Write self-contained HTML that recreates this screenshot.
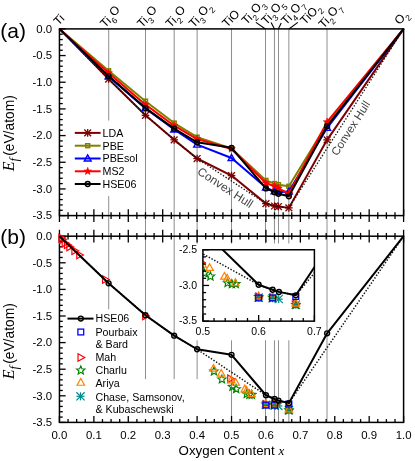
<!DOCTYPE html>
<html><head><meta charset="utf-8"><style>html,body{margin:0;padding:0;background:#fff}</style></head><body><svg width="415" height="461" viewBox="0 0 415 461" style="display:block;will-change:transform">
<rect width="415" height="461" fill="#fff"/>
<line x1="108.71" y1="28.9" x2="108.71" y2="120.6" stroke="#8e8e8e" stroke-width="1.0"/>
<line x1="108.71" y1="196.1" x2="108.71" y2="309.3" stroke="#8e8e8e" stroke-width="1.0"/>
<line x1="145.49" y1="28.9" x2="145.49" y2="379.1" stroke="#8e8e8e" stroke-width="1.0"/>
<line x1="174.17" y1="28.9" x2="174.17" y2="379.1" stroke="#8e8e8e" stroke-width="1.0"/>
<line x1="197.11" y1="28.9" x2="197.11" y2="379.1" stroke="#8e8e8e" stroke-width="1.0"/>
<line x1="231.53" y1="28.9" x2="231.53" y2="422.4" stroke="#8e8e8e" stroke-width="1.0"/>
<line x1="265.5" y1="28.9" x2="265.5" y2="422.4" stroke="#8e8e8e" stroke-width="1.0"/>
<line x1="274.45" y1="28.9" x2="274.45" y2="422.4" stroke="#8e8e8e" stroke-width="1.0"/>
<line x1="278.5" y1="28.9" x2="278.5" y2="422.4" stroke="#8e8e8e" stroke-width="1.0"/>
<line x1="288.85" y1="28.9" x2="288.85" y2="422.4" stroke="#8e8e8e" stroke-width="1.0"/>
<line x1="327" y1="28.9" x2="327" y2="422.4" stroke="#8e8e8e" stroke-width="1.0"/>
<rect x="179" y="243.5" width="143" height="96.8" fill="#fff"/>
<clipPath id="ca"><rect x="56.45" y="25.9" width="350.15000000000003" height="192.7"/></clipPath>
<polyline points="59.45,28.9 108.61,79.04 145.49,115.32 174.17,139.85 197.11,158.52 231.53,175.59 265.94,203.6 274.54,206 278.45,206.53 288.88,207.87 327.12,139.85 403.6,28.9" fill="none" stroke="#800000" stroke-width="2" stroke-linejoin="round"/>
<line x1="108.61" y1="75.24" x2="108.61" y2="82.84" stroke="#800000" stroke-width="1.3"/><line x1="104.81" y1="79.04" x2="112.41" y2="79.04" stroke="#800000" stroke-width="1.3"/><line x1="105.21" y1="75.64" x2="112.01" y2="82.44" stroke="#800000" stroke-width="1.3"/><line x1="105.21" y1="82.44" x2="112.01" y2="75.64" stroke="#800000" stroke-width="1.3"/>
<line x1="145.49" y1="111.52" x2="145.49" y2="119.12" stroke="#800000" stroke-width="1.3"/><line x1="141.69" y1="115.32" x2="149.29" y2="115.32" stroke="#800000" stroke-width="1.3"/><line x1="142.09" y1="111.92" x2="148.89" y2="118.72" stroke="#800000" stroke-width="1.3"/><line x1="142.09" y1="118.72" x2="148.89" y2="111.92" stroke="#800000" stroke-width="1.3"/>
<line x1="174.17" y1="136.05" x2="174.17" y2="143.65" stroke="#800000" stroke-width="1.3"/><line x1="170.37" y1="139.85" x2="177.97" y2="139.85" stroke="#800000" stroke-width="1.3"/><line x1="170.77" y1="136.45" x2="177.57" y2="143.25" stroke="#800000" stroke-width="1.3"/><line x1="170.77" y1="143.25" x2="177.57" y2="136.45" stroke="#800000" stroke-width="1.3"/>
<line x1="197.11" y1="154.72" x2="197.11" y2="162.32" stroke="#800000" stroke-width="1.3"/><line x1="193.31" y1="158.52" x2="200.91" y2="158.52" stroke="#800000" stroke-width="1.3"/><line x1="193.71" y1="155.12" x2="200.51" y2="161.92" stroke="#800000" stroke-width="1.3"/><line x1="193.71" y1="161.92" x2="200.51" y2="155.12" stroke="#800000" stroke-width="1.3"/>
<line x1="231.53" y1="171.79" x2="231.53" y2="179.39" stroke="#800000" stroke-width="1.3"/><line x1="227.73" y1="175.59" x2="235.33" y2="175.59" stroke="#800000" stroke-width="1.3"/><line x1="228.13" y1="172.19" x2="234.93" y2="178.99" stroke="#800000" stroke-width="1.3"/><line x1="228.13" y1="178.99" x2="234.93" y2="172.19" stroke="#800000" stroke-width="1.3"/>
<line x1="265.94" y1="199.8" x2="265.94" y2="207.4" stroke="#800000" stroke-width="1.3"/><line x1="262.14" y1="203.6" x2="269.74" y2="203.6" stroke="#800000" stroke-width="1.3"/><line x1="262.54" y1="200.2" x2="269.34" y2="207" stroke="#800000" stroke-width="1.3"/><line x1="262.54" y1="207" x2="269.34" y2="200.2" stroke="#800000" stroke-width="1.3"/>
<line x1="274.54" y1="202.2" x2="274.54" y2="209.8" stroke="#800000" stroke-width="1.3"/><line x1="270.74" y1="206" x2="278.34" y2="206" stroke="#800000" stroke-width="1.3"/><line x1="271.14" y1="202.6" x2="277.94" y2="209.4" stroke="#800000" stroke-width="1.3"/><line x1="271.14" y1="209.4" x2="277.94" y2="202.6" stroke="#800000" stroke-width="1.3"/>
<line x1="278.45" y1="202.73" x2="278.45" y2="210.33" stroke="#800000" stroke-width="1.3"/><line x1="274.65" y1="206.53" x2="282.25" y2="206.53" stroke="#800000" stroke-width="1.3"/><line x1="275.05" y1="203.13" x2="281.85" y2="209.93" stroke="#800000" stroke-width="1.3"/><line x1="275.05" y1="209.93" x2="281.85" y2="203.13" stroke="#800000" stroke-width="1.3"/>
<line x1="288.88" y1="204.07" x2="288.88" y2="211.67" stroke="#800000" stroke-width="1.3"/><line x1="285.08" y1="207.87" x2="292.68" y2="207.87" stroke="#800000" stroke-width="1.3"/><line x1="285.48" y1="204.47" x2="292.28" y2="211.27" stroke="#800000" stroke-width="1.3"/><line x1="285.48" y1="211.27" x2="292.28" y2="204.47" stroke="#800000" stroke-width="1.3"/>
<line x1="327.12" y1="136.05" x2="327.12" y2="143.65" stroke="#800000" stroke-width="1.3"/><line x1="323.32" y1="139.85" x2="330.92" y2="139.85" stroke="#800000" stroke-width="1.3"/><line x1="323.72" y1="136.45" x2="330.52" y2="143.25" stroke="#800000" stroke-width="1.3"/><line x1="323.72" y1="143.25" x2="330.52" y2="136.45" stroke="#800000" stroke-width="1.3"/>
<polyline points="59.45,28.9 108.61,79.04 145.49,115.32 174.17,139.85 197.11,158.52 265.94,203.6 274.54,206 278.45,206.53 288.88,207.87 403.6,28.9" fill="none" stroke="#111" stroke-width="1.3" stroke-dasharray="1.4,1.7"/>
<polyline points="59.45,28.9 108.61,70.77 145.49,101.18 174.17,123.05 197.11,137.19 231.53,148.39 265.94,180.39 274.54,183.59 278.45,184.66 288.88,186.26 327.12,123.85 403.6,28.9" fill="none" stroke="#808000" stroke-width="2" stroke-linejoin="round"/>
<rect x="106.66" y="68.82" width="3.9" height="3.9" fill="none" stroke="#808000" stroke-width="1.5"/>
<rect x="143.54" y="99.23" width="3.9" height="3.9" fill="none" stroke="#808000" stroke-width="1.5"/>
<rect x="172.22" y="121.1" width="3.9" height="3.9" fill="none" stroke="#808000" stroke-width="1.5"/>
<rect x="195.16" y="135.24" width="3.9" height="3.9" fill="none" stroke="#808000" stroke-width="1.5"/>
<rect x="229.58" y="146.44" width="3.9" height="3.9" fill="none" stroke="#808000" stroke-width="1.5"/>
<rect x="263.99" y="178.44" width="3.9" height="3.9" fill="none" stroke="#808000" stroke-width="1.5"/>
<rect x="272.59" y="181.64" width="3.9" height="3.9" fill="none" stroke="#808000" stroke-width="1.5"/>
<rect x="276.5" y="182.71" width="3.9" height="3.9" fill="none" stroke="#808000" stroke-width="1.5"/>
<rect x="286.93" y="184.31" width="3.9" height="3.9" fill="none" stroke="#808000" stroke-width="1.5"/>
<rect x="325.17" y="121.9" width="3.9" height="3.9" fill="none" stroke="#808000" stroke-width="1.5"/>
<polyline points="59.45,28.9 108.61,76.38 145.49,108.38 174.17,129.45 197.11,144.65 231.53,157.99 265.94,187.59 274.54,191.33 278.45,192.13 288.88,191.6 327.12,127.85 403.6,28.9" fill="none" stroke="#0000ff" stroke-width="2" stroke-linejoin="round"/>
<polygon points="108.61,72.78 105.19,78.9 112.03,78.9" fill="none" stroke="#0000ff" stroke-width="1.4"/>
<polygon points="145.49,104.78 142.07,110.9 148.91,110.9" fill="none" stroke="#0000ff" stroke-width="1.4"/>
<polygon points="174.17,125.85 170.75,131.97 177.59,131.97" fill="none" stroke="#0000ff" stroke-width="1.4"/>
<polygon points="197.11,141.05 193.69,147.17 200.53,147.17" fill="none" stroke="#0000ff" stroke-width="1.4"/>
<polygon points="231.53,154.39 228.11,160.51 234.95,160.51" fill="none" stroke="#0000ff" stroke-width="1.4"/>
<polygon points="265.94,184 262.52,190.12 269.36,190.12" fill="none" stroke="#0000ff" stroke-width="1.4"/>
<polygon points="274.54,187.73 271.12,193.85 277.96,193.85" fill="none" stroke="#0000ff" stroke-width="1.4"/>
<polygon points="278.45,188.53 275.03,194.65 281.87,194.65" fill="none" stroke="#0000ff" stroke-width="1.4"/>
<polygon points="288.88,188 285.46,194.12 292.3,194.12" fill="none" stroke="#0000ff" stroke-width="1.4"/>
<polygon points="327.12,124.25 323.7,130.37 330.54,130.37" fill="none" stroke="#0000ff" stroke-width="1.4"/>
<polyline points="59.45,28.9 108.61,73.07 145.49,104.65 174.17,125.72 197.11,139.05 231.53,148.92 265.94,183.06 274.54,186.26 278.45,188.4 288.88,193.73 327.12,121.98 403.6,28.9" fill="none" stroke="#ff0000" stroke-width="2" stroke-linejoin="round"/>
<polygon points="108.61,69.07 109.55,71.77 112.42,71.83 110.14,73.56 110.97,76.3 108.61,74.67 106.26,76.3 107.09,73.56 104.81,71.83 107.67,71.77" fill="#ff0000" stroke="#ff0000" stroke-width="0.6"/>
<polygon points="145.49,100.65 146.43,103.35 149.29,103.41 147.01,105.14 147.84,107.88 145.49,106.25 143.14,107.88 143.97,105.14 141.68,103.41 144.55,103.35" fill="#ff0000" stroke="#ff0000" stroke-width="0.6"/>
<polygon points="174.17,121.72 175.11,124.42 177.97,124.48 175.69,126.21 176.52,128.95 174.17,127.32 171.82,128.95 172.64,126.21 170.36,124.48 173.23,124.42" fill="#ff0000" stroke="#ff0000" stroke-width="0.6"/>
<polygon points="197.11,135.05 198.05,137.76 200.91,137.82 198.63,139.55 199.46,142.29 197.11,140.65 194.76,142.29 195.59,139.55 193.31,137.82 196.17,137.76" fill="#ff0000" stroke="#ff0000" stroke-width="0.6"/>
<polygon points="231.53,144.92 232.47,147.63 235.33,147.69 233.05,149.42 233.88,152.16 231.53,150.52 229.17,152.16 230,149.42 227.72,147.69 230.58,147.63" fill="#ff0000" stroke="#ff0000" stroke-width="0.6"/>
<polygon points="265.94,179.06 266.88,181.77 269.74,181.82 267.46,183.56 268.29,186.3 265.94,184.66 263.59,186.3 264.42,183.56 262.14,181.82 265,181.77" fill="#ff0000" stroke="#ff0000" stroke-width="0.6"/>
<polygon points="274.54,182.26 275.48,184.97 278.35,185.03 276.07,186.76 276.89,189.5 274.54,187.86 272.19,189.5 273.02,186.76 270.74,185.03 273.6,184.97" fill="#ff0000" stroke="#ff0000" stroke-width="0.6"/>
<polygon points="278.45,184.4 279.4,187.1 282.26,187.16 279.98,188.89 280.81,191.63 278.45,190 276.1,191.63 276.93,188.89 274.65,187.16 277.51,187.1" fill="#ff0000" stroke="#ff0000" stroke-width="0.6"/>
<polygon points="288.88,189.73 289.82,192.44 292.69,192.49 290.41,194.22 291.23,196.97 288.88,195.33 286.53,196.97 287.36,194.22 285.08,192.49 287.94,192.44" fill="#ff0000" stroke="#ff0000" stroke-width="0.6"/>
<polygon points="327.12,117.98 328.06,120.69 330.93,120.75 328.64,122.48 329.47,125.22 327.12,123.58 324.77,125.22 325.6,122.48 323.32,120.75 326.18,120.69" fill="#ff0000" stroke="#ff0000" stroke-width="0.6"/>
<polyline points="59.45,28.9 108.61,76.11 145.49,108.11 174.17,128.65 197.11,142.25 231.53,147.85 265.94,188.4 274.54,192.13 278.45,193.73 288.88,196.29 327.12,126.25 403.6,28.9" fill="none" stroke="#000000" stroke-width="2" stroke-linejoin="round"/>
<circle cx="108.61" cy="76.11" r="2.45" fill="none" stroke="#000000" stroke-width="1.4"/>
<circle cx="145.49" cy="108.11" r="2.45" fill="none" stroke="#000000" stroke-width="1.4"/>
<circle cx="174.17" cy="128.65" r="2.45" fill="none" stroke="#000000" stroke-width="1.4"/>
<circle cx="197.11" cy="142.25" r="2.45" fill="none" stroke="#000000" stroke-width="1.4"/>
<circle cx="231.53" cy="147.85" r="2.45" fill="none" stroke="#000000" stroke-width="1.4"/>
<circle cx="265.94" cy="188.4" r="2.45" fill="none" stroke="#000000" stroke-width="1.4"/>
<circle cx="274.54" cy="192.13" r="2.45" fill="none" stroke="#000000" stroke-width="1.4"/>
<circle cx="278.45" cy="193.73" r="2.45" fill="none" stroke="#000000" stroke-width="1.4"/>
<circle cx="288.88" cy="196.29" r="2.45" fill="none" stroke="#000000" stroke-width="1.4"/>
<circle cx="327.12" cy="126.25" r="2.45" fill="none" stroke="#000000" stroke-width="1.4"/>
<text transform="translate(196.6,173.6) rotate(33.2)" font-family="Liberation Sans, sans-serif" font-size="11.8" fill="#444">Convex Hull</text>
<text transform="translate(337.3,156.5) rotate(-57.5)" font-family="Liberation Sans, sans-serif" font-size="11.5" fill="#444">Convex Hull</text>
<line x1="74.8" y1="132.9" x2="100.6" y2="132.9" stroke="#800000" stroke-width="2"/>
<line x1="87.7" y1="129.1" x2="87.7" y2="136.7" stroke="#800000" stroke-width="1.3"/><line x1="83.9" y1="132.9" x2="91.5" y2="132.9" stroke="#800000" stroke-width="1.3"/><line x1="84.3" y1="129.5" x2="91.1" y2="136.3" stroke="#800000" stroke-width="1.3"/><line x1="84.3" y1="136.3" x2="91.1" y2="129.5" stroke="#800000" stroke-width="1.3"/>
<text x="102.5" y="136.75" font-family="Liberation Sans, sans-serif" font-size="10.7" fill="#000">LDA</text>
<line x1="74.8" y1="145.7" x2="100.6" y2="145.7" stroke="#808000" stroke-width="2"/>
<rect x="85.75" y="143.75" width="3.9" height="3.9" fill="none" stroke="#808000" stroke-width="1.5"/>
<text x="102.5" y="149.54999999999998" font-family="Liberation Sans, sans-serif" font-size="10.7" fill="#000">PBE</text>
<line x1="74.8" y1="158.5" x2="100.6" y2="158.5" stroke="#0000ff" stroke-width="2"/>
<polygon points="87.7,154.9 84.28,161.02 91.12,161.02" fill="none" stroke="#0000ff" stroke-width="1.4"/>
<text x="102.5" y="162.35" font-family="Liberation Sans, sans-serif" font-size="10.7" fill="#000">PBEsol</text>
<line x1="74.8" y1="171.3" x2="100.6" y2="171.3" stroke="#ff0000" stroke-width="2"/>
<polygon points="87.7,167.3 88.64,170.01 91.5,170.06 89.22,171.79 90.05,174.54 87.7,172.9 85.35,174.54 86.18,171.79 83.9,170.06 86.76,170.01" fill="#ff0000" stroke="#ff0000" stroke-width="0.6"/>
<text x="102.5" y="175.15" font-family="Liberation Sans, sans-serif" font-size="10.7" fill="#000">MS2</text>
<line x1="74.8" y1="184.0" x2="100.6" y2="184.0" stroke="#000000" stroke-width="2"/>
<circle cx="87.7" cy="184" r="2.45" fill="none" stroke="#000000" stroke-width="1.4"/>
<text x="102.5" y="187.85" font-family="Liberation Sans, sans-serif" font-size="10.7" fill="#000">HSE06</text>
<rect x="59.45" y="28.9" width="344.15000000000003" height="186.7" fill="none" stroke="#000" stroke-width="1.5"/>
<line x1="59.45" y1="28.9" x2="65.65" y2="28.9" stroke="#000" stroke-width="1.3"/>
<text x="52.2" y="32.63" font-family="Liberation Sans, sans-serif" font-size="11.4" text-anchor="end">0.0</text>
<line x1="59.45" y1="34.23" x2="62.75" y2="34.23" stroke="#000" stroke-width="1.3"/>
<line x1="59.45" y1="39.57" x2="62.75" y2="39.57" stroke="#000" stroke-width="1.3"/>
<line x1="59.45" y1="44.9" x2="62.75" y2="44.9" stroke="#000" stroke-width="1.3"/>
<line x1="59.45" y1="50.24" x2="62.75" y2="50.24" stroke="#000" stroke-width="1.3"/>
<line x1="59.45" y1="55.57" x2="65.65" y2="55.57" stroke="#000" stroke-width="1.3"/>
<text x="52.2" y="59.3" font-family="Liberation Sans, sans-serif" font-size="11.4" text-anchor="end">-0.5</text>
<line x1="59.45" y1="60.91" x2="62.75" y2="60.91" stroke="#000" stroke-width="1.3"/>
<line x1="59.45" y1="66.24" x2="62.75" y2="66.24" stroke="#000" stroke-width="1.3"/>
<line x1="59.45" y1="71.57" x2="62.75" y2="71.57" stroke="#000" stroke-width="1.3"/>
<line x1="59.45" y1="76.91" x2="62.75" y2="76.91" stroke="#000" stroke-width="1.3"/>
<line x1="59.45" y1="82.24" x2="65.65" y2="82.24" stroke="#000" stroke-width="1.3"/>
<text x="52.2" y="85.97" font-family="Liberation Sans, sans-serif" font-size="11.4" text-anchor="end">-1.0</text>
<line x1="59.45" y1="87.58" x2="62.75" y2="87.58" stroke="#000" stroke-width="1.3"/>
<line x1="59.45" y1="92.91" x2="62.75" y2="92.91" stroke="#000" stroke-width="1.3"/>
<line x1="59.45" y1="98.25" x2="62.75" y2="98.25" stroke="#000" stroke-width="1.3"/>
<line x1="59.45" y1="103.58" x2="62.75" y2="103.58" stroke="#000" stroke-width="1.3"/>
<line x1="59.45" y1="108.91" x2="65.65" y2="108.91" stroke="#000" stroke-width="1.3"/>
<text x="52.2" y="112.64" font-family="Liberation Sans, sans-serif" font-size="11.4" text-anchor="end">-1.5</text>
<line x1="59.45" y1="114.25" x2="62.75" y2="114.25" stroke="#000" stroke-width="1.3"/>
<line x1="59.45" y1="119.58" x2="62.75" y2="119.58" stroke="#000" stroke-width="1.3"/>
<line x1="59.45" y1="124.92" x2="62.75" y2="124.92" stroke="#000" stroke-width="1.3"/>
<line x1="59.45" y1="130.25" x2="62.75" y2="130.25" stroke="#000" stroke-width="1.3"/>
<line x1="59.45" y1="135.59" x2="65.65" y2="135.59" stroke="#000" stroke-width="1.3"/>
<text x="52.2" y="139.32" font-family="Liberation Sans, sans-serif" font-size="11.4" text-anchor="end">-2.0</text>
<line x1="59.45" y1="140.92" x2="62.75" y2="140.92" stroke="#000" stroke-width="1.3"/>
<line x1="59.45" y1="146.25" x2="62.75" y2="146.25" stroke="#000" stroke-width="1.3"/>
<line x1="59.45" y1="151.59" x2="62.75" y2="151.59" stroke="#000" stroke-width="1.3"/>
<line x1="59.45" y1="156.92" x2="62.75" y2="156.92" stroke="#000" stroke-width="1.3"/>
<line x1="59.45" y1="162.26" x2="65.65" y2="162.26" stroke="#000" stroke-width="1.3"/>
<text x="52.2" y="165.99" font-family="Liberation Sans, sans-serif" font-size="11.4" text-anchor="end">-2.5</text>
<line x1="59.45" y1="167.59" x2="62.75" y2="167.59" stroke="#000" stroke-width="1.3"/>
<line x1="59.45" y1="172.93" x2="62.75" y2="172.93" stroke="#000" stroke-width="1.3"/>
<line x1="59.45" y1="178.26" x2="62.75" y2="178.26" stroke="#000" stroke-width="1.3"/>
<line x1="59.45" y1="183.59" x2="62.75" y2="183.59" stroke="#000" stroke-width="1.3"/>
<line x1="59.45" y1="188.93" x2="65.65" y2="188.93" stroke="#000" stroke-width="1.3"/>
<text x="52.2" y="192.66" font-family="Liberation Sans, sans-serif" font-size="11.4" text-anchor="end">-3.0</text>
<line x1="59.45" y1="194.26" x2="62.75" y2="194.26" stroke="#000" stroke-width="1.3"/>
<line x1="59.45" y1="199.6" x2="62.75" y2="199.6" stroke="#000" stroke-width="1.3"/>
<line x1="59.45" y1="204.93" x2="62.75" y2="204.93" stroke="#000" stroke-width="1.3"/>
<line x1="59.45" y1="210.27" x2="62.75" y2="210.27" stroke="#000" stroke-width="1.3"/>
<line x1="59.45" y1="215.6" x2="65.65" y2="215.6" stroke="#000" stroke-width="1.3"/>
<text x="52.2" y="219.33" font-family="Liberation Sans, sans-serif" font-size="11.4" text-anchor="end">-3.5</text>
<line x1="59.45" y1="209.2" x2="59.45" y2="222" stroke="#000" stroke-width="1.3"/>
<line x1="68.05" y1="212.3" x2="68.05" y2="218.9" stroke="#000" stroke-width="1.3"/>
<line x1="76.66" y1="212.3" x2="76.66" y2="218.9" stroke="#000" stroke-width="1.3"/>
<line x1="85.26" y1="212.3" x2="85.26" y2="218.9" stroke="#000" stroke-width="1.3"/>
<line x1="93.87" y1="209.2" x2="93.87" y2="222" stroke="#000" stroke-width="1.3"/>
<line x1="102.47" y1="212.3" x2="102.47" y2="218.9" stroke="#000" stroke-width="1.3"/>
<line x1="111.07" y1="212.3" x2="111.07" y2="218.9" stroke="#000" stroke-width="1.3"/>
<line x1="119.68" y1="212.3" x2="119.68" y2="218.9" stroke="#000" stroke-width="1.3"/>
<line x1="128.28" y1="209.2" x2="128.28" y2="222" stroke="#000" stroke-width="1.3"/>
<line x1="136.88" y1="212.3" x2="136.88" y2="218.9" stroke="#000" stroke-width="1.3"/>
<line x1="145.49" y1="212.3" x2="145.49" y2="218.9" stroke="#000" stroke-width="1.3"/>
<line x1="154.09" y1="212.3" x2="154.09" y2="218.9" stroke="#000" stroke-width="1.3"/>
<line x1="162.69" y1="209.2" x2="162.69" y2="222" stroke="#000" stroke-width="1.3"/>
<line x1="171.3" y1="212.3" x2="171.3" y2="218.9" stroke="#000" stroke-width="1.3"/>
<line x1="179.9" y1="212.3" x2="179.9" y2="218.9" stroke="#000" stroke-width="1.3"/>
<line x1="188.51" y1="212.3" x2="188.51" y2="218.9" stroke="#000" stroke-width="1.3"/>
<line x1="197.11" y1="209.2" x2="197.11" y2="222" stroke="#000" stroke-width="1.3"/>
<line x1="205.71" y1="212.3" x2="205.71" y2="218.9" stroke="#000" stroke-width="1.3"/>
<line x1="214.32" y1="212.3" x2="214.32" y2="218.9" stroke="#000" stroke-width="1.3"/>
<line x1="222.92" y1="212.3" x2="222.92" y2="218.9" stroke="#000" stroke-width="1.3"/>
<line x1="231.53" y1="209.2" x2="231.53" y2="222" stroke="#000" stroke-width="1.3"/>
<line x1="240.13" y1="212.3" x2="240.13" y2="218.9" stroke="#000" stroke-width="1.3"/>
<line x1="248.73" y1="212.3" x2="248.73" y2="218.9" stroke="#000" stroke-width="1.3"/>
<line x1="257.34" y1="212.3" x2="257.34" y2="218.9" stroke="#000" stroke-width="1.3"/>
<line x1="265.94" y1="209.2" x2="265.94" y2="222" stroke="#000" stroke-width="1.3"/>
<line x1="274.54" y1="212.3" x2="274.54" y2="218.9" stroke="#000" stroke-width="1.3"/>
<line x1="283.15" y1="212.3" x2="283.15" y2="218.9" stroke="#000" stroke-width="1.3"/>
<line x1="291.75" y1="212.3" x2="291.75" y2="218.9" stroke="#000" stroke-width="1.3"/>
<line x1="300.36" y1="209.2" x2="300.36" y2="222" stroke="#000" stroke-width="1.3"/>
<line x1="308.96" y1="212.3" x2="308.96" y2="218.9" stroke="#000" stroke-width="1.3"/>
<line x1="317.56" y1="212.3" x2="317.56" y2="218.9" stroke="#000" stroke-width="1.3"/>
<line x1="326.17" y1="212.3" x2="326.17" y2="218.9" stroke="#000" stroke-width="1.3"/>
<line x1="334.77" y1="209.2" x2="334.77" y2="222" stroke="#000" stroke-width="1.3"/>
<line x1="343.37" y1="212.3" x2="343.37" y2="218.9" stroke="#000" stroke-width="1.3"/>
<line x1="351.98" y1="212.3" x2="351.98" y2="218.9" stroke="#000" stroke-width="1.3"/>
<line x1="360.58" y1="212.3" x2="360.58" y2="218.9" stroke="#000" stroke-width="1.3"/>
<line x1="369.19" y1="209.2" x2="369.19" y2="222" stroke="#000" stroke-width="1.3"/>
<line x1="377.79" y1="212.3" x2="377.79" y2="218.9" stroke="#000" stroke-width="1.3"/>
<line x1="386.39" y1="212.3" x2="386.39" y2="218.9" stroke="#000" stroke-width="1.3"/>
<line x1="395" y1="212.3" x2="395" y2="218.9" stroke="#000" stroke-width="1.3"/>
<line x1="403.6" y1="209.2" x2="403.6" y2="222" stroke="#000" stroke-width="1.3"/>
<rect x="59.45" y="236.2" width="344.15000000000003" height="186.2" fill="none" stroke="#000" stroke-width="1.5"/>
<line x1="59.45" y1="236.2" x2="65.65" y2="236.2" stroke="#000" stroke-width="1.3"/>
<text x="52.2" y="239.93" font-family="Liberation Sans, sans-serif" font-size="11.4" text-anchor="end">0.0</text>
<line x1="59.45" y1="241.52" x2="62.75" y2="241.52" stroke="#000" stroke-width="1.3"/>
<line x1="59.45" y1="246.84" x2="62.75" y2="246.84" stroke="#000" stroke-width="1.3"/>
<line x1="59.45" y1="252.16" x2="62.75" y2="252.16" stroke="#000" stroke-width="1.3"/>
<line x1="59.45" y1="257.48" x2="62.75" y2="257.48" stroke="#000" stroke-width="1.3"/>
<line x1="59.45" y1="262.8" x2="65.65" y2="262.8" stroke="#000" stroke-width="1.3"/>
<text x="52.2" y="266.53" font-family="Liberation Sans, sans-serif" font-size="11.4" text-anchor="end">-0.5</text>
<line x1="59.45" y1="268.12" x2="62.75" y2="268.12" stroke="#000" stroke-width="1.3"/>
<line x1="59.45" y1="273.44" x2="62.75" y2="273.44" stroke="#000" stroke-width="1.3"/>
<line x1="59.45" y1="278.76" x2="62.75" y2="278.76" stroke="#000" stroke-width="1.3"/>
<line x1="59.45" y1="284.08" x2="62.75" y2="284.08" stroke="#000" stroke-width="1.3"/>
<line x1="59.45" y1="289.4" x2="65.65" y2="289.4" stroke="#000" stroke-width="1.3"/>
<text x="52.2" y="293.13" font-family="Liberation Sans, sans-serif" font-size="11.4" text-anchor="end">-1.0</text>
<line x1="59.45" y1="294.72" x2="62.75" y2="294.72" stroke="#000" stroke-width="1.3"/>
<line x1="59.45" y1="300.04" x2="62.75" y2="300.04" stroke="#000" stroke-width="1.3"/>
<line x1="59.45" y1="305.36" x2="62.75" y2="305.36" stroke="#000" stroke-width="1.3"/>
<line x1="59.45" y1="310.68" x2="62.75" y2="310.68" stroke="#000" stroke-width="1.3"/>
<line x1="59.45" y1="316" x2="65.65" y2="316" stroke="#000" stroke-width="1.3"/>
<text x="52.2" y="319.73" font-family="Liberation Sans, sans-serif" font-size="11.4" text-anchor="end">-1.5</text>
<line x1="59.45" y1="321.32" x2="62.75" y2="321.32" stroke="#000" stroke-width="1.3"/>
<line x1="59.45" y1="326.64" x2="62.75" y2="326.64" stroke="#000" stroke-width="1.3"/>
<line x1="59.45" y1="331.96" x2="62.75" y2="331.96" stroke="#000" stroke-width="1.3"/>
<line x1="59.45" y1="337.28" x2="62.75" y2="337.28" stroke="#000" stroke-width="1.3"/>
<line x1="59.45" y1="342.6" x2="65.65" y2="342.6" stroke="#000" stroke-width="1.3"/>
<text x="52.2" y="346.33" font-family="Liberation Sans, sans-serif" font-size="11.4" text-anchor="end">-2.0</text>
<line x1="59.45" y1="347.92" x2="62.75" y2="347.92" stroke="#000" stroke-width="1.3"/>
<line x1="59.45" y1="353.24" x2="62.75" y2="353.24" stroke="#000" stroke-width="1.3"/>
<line x1="59.45" y1="358.56" x2="62.75" y2="358.56" stroke="#000" stroke-width="1.3"/>
<line x1="59.45" y1="363.88" x2="62.75" y2="363.88" stroke="#000" stroke-width="1.3"/>
<line x1="59.45" y1="369.2" x2="65.65" y2="369.2" stroke="#000" stroke-width="1.3"/>
<text x="52.2" y="372.93" font-family="Liberation Sans, sans-serif" font-size="11.4" text-anchor="end">-2.5</text>
<line x1="59.45" y1="374.52" x2="62.75" y2="374.52" stroke="#000" stroke-width="1.3"/>
<line x1="59.45" y1="379.84" x2="62.75" y2="379.84" stroke="#000" stroke-width="1.3"/>
<line x1="59.45" y1="385.16" x2="62.75" y2="385.16" stroke="#000" stroke-width="1.3"/>
<line x1="59.45" y1="390.48" x2="62.75" y2="390.48" stroke="#000" stroke-width="1.3"/>
<line x1="59.45" y1="395.8" x2="65.65" y2="395.8" stroke="#000" stroke-width="1.3"/>
<text x="52.2" y="399.53" font-family="Liberation Sans, sans-serif" font-size="11.4" text-anchor="end">-3.0</text>
<line x1="59.45" y1="401.12" x2="62.75" y2="401.12" stroke="#000" stroke-width="1.3"/>
<line x1="59.45" y1="406.44" x2="62.75" y2="406.44" stroke="#000" stroke-width="1.3"/>
<line x1="59.45" y1="411.76" x2="62.75" y2="411.76" stroke="#000" stroke-width="1.3"/>
<line x1="59.45" y1="417.08" x2="62.75" y2="417.08" stroke="#000" stroke-width="1.3"/>
<line x1="59.45" y1="422.4" x2="65.65" y2="422.4" stroke="#000" stroke-width="1.3"/>
<text x="52.2" y="426.13" font-family="Liberation Sans, sans-serif" font-size="11.4" text-anchor="end">-3.5</text>
<line x1="59.45" y1="229.8" x2="59.45" y2="242.6" stroke="#000" stroke-width="1.3"/>
<line x1="59.45" y1="416" x2="59.45" y2="422.4" stroke="#000" stroke-width="1.3"/>
<text x="59.45" y="439" font-family="Liberation Sans, sans-serif" font-size="11.4" text-anchor="middle">0.0</text>
<line x1="68.05" y1="232.9" x2="68.05" y2="239.5" stroke="#000" stroke-width="1.3"/>
<line x1="68.05" y1="419.1" x2="68.05" y2="422.4" stroke="#000" stroke-width="1.3"/>
<line x1="76.66" y1="232.9" x2="76.66" y2="239.5" stroke="#000" stroke-width="1.3"/>
<line x1="76.66" y1="419.1" x2="76.66" y2="422.4" stroke="#000" stroke-width="1.3"/>
<line x1="85.26" y1="232.9" x2="85.26" y2="239.5" stroke="#000" stroke-width="1.3"/>
<line x1="85.26" y1="419.1" x2="85.26" y2="422.4" stroke="#000" stroke-width="1.3"/>
<line x1="93.87" y1="229.8" x2="93.87" y2="242.6" stroke="#000" stroke-width="1.3"/>
<line x1="93.87" y1="416" x2="93.87" y2="422.4" stroke="#000" stroke-width="1.3"/>
<text x="93.87" y="439" font-family="Liberation Sans, sans-serif" font-size="11.4" text-anchor="middle">0.1</text>
<line x1="102.47" y1="232.9" x2="102.47" y2="239.5" stroke="#000" stroke-width="1.3"/>
<line x1="102.47" y1="419.1" x2="102.47" y2="422.4" stroke="#000" stroke-width="1.3"/>
<line x1="111.07" y1="232.9" x2="111.07" y2="239.5" stroke="#000" stroke-width="1.3"/>
<line x1="111.07" y1="419.1" x2="111.07" y2="422.4" stroke="#000" stroke-width="1.3"/>
<line x1="119.68" y1="232.9" x2="119.68" y2="239.5" stroke="#000" stroke-width="1.3"/>
<line x1="119.68" y1="419.1" x2="119.68" y2="422.4" stroke="#000" stroke-width="1.3"/>
<line x1="128.28" y1="229.8" x2="128.28" y2="242.6" stroke="#000" stroke-width="1.3"/>
<line x1="128.28" y1="416" x2="128.28" y2="422.4" stroke="#000" stroke-width="1.3"/>
<text x="128.28" y="439" font-family="Liberation Sans, sans-serif" font-size="11.4" text-anchor="middle">0.2</text>
<line x1="136.88" y1="232.9" x2="136.88" y2="239.5" stroke="#000" stroke-width="1.3"/>
<line x1="136.88" y1="419.1" x2="136.88" y2="422.4" stroke="#000" stroke-width="1.3"/>
<line x1="145.49" y1="232.9" x2="145.49" y2="239.5" stroke="#000" stroke-width="1.3"/>
<line x1="145.49" y1="419.1" x2="145.49" y2="422.4" stroke="#000" stroke-width="1.3"/>
<line x1="154.09" y1="232.9" x2="154.09" y2="239.5" stroke="#000" stroke-width="1.3"/>
<line x1="154.09" y1="419.1" x2="154.09" y2="422.4" stroke="#000" stroke-width="1.3"/>
<line x1="162.69" y1="229.8" x2="162.69" y2="242.6" stroke="#000" stroke-width="1.3"/>
<line x1="162.69" y1="416" x2="162.69" y2="422.4" stroke="#000" stroke-width="1.3"/>
<text x="162.69" y="439" font-family="Liberation Sans, sans-serif" font-size="11.4" text-anchor="middle">0.3</text>
<line x1="171.3" y1="232.9" x2="171.3" y2="239.5" stroke="#000" stroke-width="1.3"/>
<line x1="171.3" y1="419.1" x2="171.3" y2="422.4" stroke="#000" stroke-width="1.3"/>
<line x1="179.9" y1="232.9" x2="179.9" y2="239.5" stroke="#000" stroke-width="1.3"/>
<line x1="179.9" y1="419.1" x2="179.9" y2="422.4" stroke="#000" stroke-width="1.3"/>
<line x1="188.51" y1="232.9" x2="188.51" y2="239.5" stroke="#000" stroke-width="1.3"/>
<line x1="188.51" y1="419.1" x2="188.51" y2="422.4" stroke="#000" stroke-width="1.3"/>
<line x1="197.11" y1="229.8" x2="197.11" y2="242.6" stroke="#000" stroke-width="1.3"/>
<line x1="197.11" y1="416" x2="197.11" y2="422.4" stroke="#000" stroke-width="1.3"/>
<text x="197.11" y="439" font-family="Liberation Sans, sans-serif" font-size="11.4" text-anchor="middle">0.4</text>
<line x1="205.71" y1="232.9" x2="205.71" y2="239.5" stroke="#000" stroke-width="1.3"/>
<line x1="205.71" y1="419.1" x2="205.71" y2="422.4" stroke="#000" stroke-width="1.3"/>
<line x1="214.32" y1="232.9" x2="214.32" y2="239.5" stroke="#000" stroke-width="1.3"/>
<line x1="214.32" y1="419.1" x2="214.32" y2="422.4" stroke="#000" stroke-width="1.3"/>
<line x1="222.92" y1="232.9" x2="222.92" y2="239.5" stroke="#000" stroke-width="1.3"/>
<line x1="222.92" y1="419.1" x2="222.92" y2="422.4" stroke="#000" stroke-width="1.3"/>
<line x1="231.53" y1="229.8" x2="231.53" y2="242.6" stroke="#000" stroke-width="1.3"/>
<line x1="231.53" y1="416" x2="231.53" y2="422.4" stroke="#000" stroke-width="1.3"/>
<text x="231.53" y="439" font-family="Liberation Sans, sans-serif" font-size="11.4" text-anchor="middle">0.5</text>
<line x1="240.13" y1="232.9" x2="240.13" y2="239.5" stroke="#000" stroke-width="1.3"/>
<line x1="240.13" y1="419.1" x2="240.13" y2="422.4" stroke="#000" stroke-width="1.3"/>
<line x1="248.73" y1="232.9" x2="248.73" y2="239.5" stroke="#000" stroke-width="1.3"/>
<line x1="248.73" y1="419.1" x2="248.73" y2="422.4" stroke="#000" stroke-width="1.3"/>
<line x1="257.34" y1="232.9" x2="257.34" y2="239.5" stroke="#000" stroke-width="1.3"/>
<line x1="257.34" y1="419.1" x2="257.34" y2="422.4" stroke="#000" stroke-width="1.3"/>
<line x1="265.94" y1="229.8" x2="265.94" y2="242.6" stroke="#000" stroke-width="1.3"/>
<line x1="265.94" y1="416" x2="265.94" y2="422.4" stroke="#000" stroke-width="1.3"/>
<text x="265.94" y="439" font-family="Liberation Sans, sans-serif" font-size="11.4" text-anchor="middle">0.6</text>
<line x1="274.54" y1="232.9" x2="274.54" y2="239.5" stroke="#000" stroke-width="1.3"/>
<line x1="274.54" y1="419.1" x2="274.54" y2="422.4" stroke="#000" stroke-width="1.3"/>
<line x1="283.15" y1="232.9" x2="283.15" y2="239.5" stroke="#000" stroke-width="1.3"/>
<line x1="283.15" y1="419.1" x2="283.15" y2="422.4" stroke="#000" stroke-width="1.3"/>
<line x1="291.75" y1="232.9" x2="291.75" y2="239.5" stroke="#000" stroke-width="1.3"/>
<line x1="291.75" y1="419.1" x2="291.75" y2="422.4" stroke="#000" stroke-width="1.3"/>
<line x1="300.36" y1="229.8" x2="300.36" y2="242.6" stroke="#000" stroke-width="1.3"/>
<line x1="300.36" y1="416" x2="300.36" y2="422.4" stroke="#000" stroke-width="1.3"/>
<text x="300.36" y="439" font-family="Liberation Sans, sans-serif" font-size="11.4" text-anchor="middle">0.7</text>
<line x1="308.96" y1="232.9" x2="308.96" y2="239.5" stroke="#000" stroke-width="1.3"/>
<line x1="308.96" y1="419.1" x2="308.96" y2="422.4" stroke="#000" stroke-width="1.3"/>
<line x1="317.56" y1="232.9" x2="317.56" y2="239.5" stroke="#000" stroke-width="1.3"/>
<line x1="317.56" y1="419.1" x2="317.56" y2="422.4" stroke="#000" stroke-width="1.3"/>
<line x1="326.17" y1="232.9" x2="326.17" y2="239.5" stroke="#000" stroke-width="1.3"/>
<line x1="326.17" y1="419.1" x2="326.17" y2="422.4" stroke="#000" stroke-width="1.3"/>
<line x1="334.77" y1="229.8" x2="334.77" y2="242.6" stroke="#000" stroke-width="1.3"/>
<line x1="334.77" y1="416" x2="334.77" y2="422.4" stroke="#000" stroke-width="1.3"/>
<text x="334.77" y="439" font-family="Liberation Sans, sans-serif" font-size="11.4" text-anchor="middle">0.8</text>
<line x1="343.37" y1="232.9" x2="343.37" y2="239.5" stroke="#000" stroke-width="1.3"/>
<line x1="343.37" y1="419.1" x2="343.37" y2="422.4" stroke="#000" stroke-width="1.3"/>
<line x1="351.98" y1="232.9" x2="351.98" y2="239.5" stroke="#000" stroke-width="1.3"/>
<line x1="351.98" y1="419.1" x2="351.98" y2="422.4" stroke="#000" stroke-width="1.3"/>
<line x1="360.58" y1="232.9" x2="360.58" y2="239.5" stroke="#000" stroke-width="1.3"/>
<line x1="360.58" y1="419.1" x2="360.58" y2="422.4" stroke="#000" stroke-width="1.3"/>
<line x1="369.19" y1="229.8" x2="369.19" y2="242.6" stroke="#000" stroke-width="1.3"/>
<line x1="369.19" y1="416" x2="369.19" y2="422.4" stroke="#000" stroke-width="1.3"/>
<text x="369.19" y="439" font-family="Liberation Sans, sans-serif" font-size="11.4" text-anchor="middle">0.9</text>
<line x1="377.79" y1="232.9" x2="377.79" y2="239.5" stroke="#000" stroke-width="1.3"/>
<line x1="377.79" y1="419.1" x2="377.79" y2="422.4" stroke="#000" stroke-width="1.3"/>
<line x1="386.39" y1="232.9" x2="386.39" y2="239.5" stroke="#000" stroke-width="1.3"/>
<line x1="386.39" y1="419.1" x2="386.39" y2="422.4" stroke="#000" stroke-width="1.3"/>
<line x1="395" y1="232.9" x2="395" y2="239.5" stroke="#000" stroke-width="1.3"/>
<line x1="395" y1="419.1" x2="395" y2="422.4" stroke="#000" stroke-width="1.3"/>
<line x1="403.6" y1="229.8" x2="403.6" y2="242.6" stroke="#000" stroke-width="1.3"/>
<line x1="403.6" y1="416" x2="403.6" y2="422.4" stroke="#000" stroke-width="1.3"/>
<text x="403.6" y="439" font-family="Liberation Sans, sans-serif" font-size="11.4" text-anchor="middle">1.0</text>
<polyline points="59.45,236.2 108.61,283.28 145.49,315.2 174.17,335.68 197.11,349.25 265.94,395.27 274.54,398.99 278.45,400.59 288.88,403.14 403.6,236.2" fill="none" stroke="#111" stroke-width="1.5" stroke-dasharray="1.4,1.7"/>
<line x1="265.94" y1="400.84" x2="265.94" y2="408.84" stroke="#008b8b" stroke-width="1.25"/><line x1="261.94" y1="404.84" x2="269.94" y2="404.84" stroke="#008b8b" stroke-width="1.25"/><line x1="261.84" y1="400.74" x2="270.04" y2="408.94" stroke="#008b8b" stroke-width="1.25"/><line x1="261.84" y1="408.94" x2="270.04" y2="400.74" stroke="#008b8b" stroke-width="1.25"/>
<line x1="274.54" y1="401.38" x2="274.54" y2="409.38" stroke="#008b8b" stroke-width="1.25"/><line x1="270.54" y1="405.38" x2="278.54" y2="405.38" stroke="#008b8b" stroke-width="1.25"/><line x1="270.44" y1="401.28" x2="278.64" y2="409.48" stroke="#008b8b" stroke-width="1.25"/><line x1="270.44" y1="409.48" x2="278.64" y2="401.28" stroke="#008b8b" stroke-width="1.25"/>
<line x1="278.33" y1="401.91" x2="278.33" y2="409.91" stroke="#008b8b" stroke-width="1.25"/><line x1="274.33" y1="405.91" x2="282.33" y2="405.91" stroke="#008b8b" stroke-width="1.25"/><line x1="274.23" y1="401.81" x2="282.43" y2="410.01" stroke="#008b8b" stroke-width="1.25"/><line x1="274.23" y1="410.01" x2="282.43" y2="401.81" stroke="#008b8b" stroke-width="1.25"/>
<line x1="288.88" y1="406.16" x2="288.88" y2="414.16" stroke="#008b8b" stroke-width="1.25"/><line x1="284.88" y1="410.16" x2="292.88" y2="410.16" stroke="#008b8b" stroke-width="1.25"/><line x1="284.78" y1="406.06" x2="292.98" y2="414.26" stroke="#008b8b" stroke-width="1.25"/><line x1="284.78" y1="414.26" x2="292.98" y2="406.06" stroke="#008b8b" stroke-width="1.25"/>
<polygon points="65.64,238.01 58.92,234.26 58.92,241.76" fill="none" stroke="#ff0000" stroke-width="1.2"/>
<polygon points="66.36,239.71 59.64,235.96 59.64,243.46" fill="none" stroke="#ff0000" stroke-width="1.2"/>
<polygon points="68.91,243.12 62.19,239.36 62.19,246.87" fill="none" stroke="#ff0000" stroke-width="1.2"/>
<polygon points="71.14,244.71 64.43,240.96 64.43,248.46" fill="none" stroke="#ff0000" stroke-width="1.2"/>
<polygon points="73.55,246.89 66.84,243.14 66.84,250.65" fill="none" stroke="#ff0000" stroke-width="1.2"/>
<polygon points="78.61,250.7 71.9,246.95 71.9,254.45" fill="none" stroke="#ff0000" stroke-width="1.2"/>
<polygon points="83.46,254.9 76.75,251.15 76.75,258.65" fill="none" stroke="#ff0000" stroke-width="1.2"/>
<polygon points="109.24,279.4 102.53,275.65 102.53,283.15" fill="none" stroke="#ff0000" stroke-width="1.2"/>
<polygon points="149.44,316 142.72,312.25 142.72,319.75" fill="none" stroke="#ff0000" stroke-width="1.2"/>
<polygon points="234.44,378.78 227.73,375.02 227.73,382.53" fill="none" stroke="#ff0000" stroke-width="1.2"/>
<polygon points="269.89,404.31 263.18,400.56 263.18,408.06" fill="none" stroke="#ff0000" stroke-width="1.2"/>
<polygon points="278.49,404.84 271.78,401.09 271.78,408.6" fill="none" stroke="#ff0000" stroke-width="1.2"/>
<polygon points="292.83,409.63 286.12,405.88 286.12,413.38" fill="none" stroke="#ff0000" stroke-width="1.2"/>
<polygon points="213.97,366.93 215.12,369.75 218.16,369.97 215.83,371.93 216.56,374.89 213.97,373.28 211.39,374.89 212.12,371.93 209.79,369.97 212.83,369.75" fill="none" stroke="#008000" stroke-width="1.15"/>
<polygon points="221.89,374.91 223.03,377.73 226.07,377.95 223.74,379.91 224.48,382.87 221.89,381.26 219.3,382.87 220.03,379.91 217.7,377.95 220.74,377.73" fill="none" stroke="#008000" stroke-width="1.15"/>
<polygon points="232.45,382.36 233.6,385.18 236.64,385.4 234.31,387.36 235.04,390.32 232.45,388.71 229.87,390.32 230.6,387.36 228.27,385.4 231.31,385.18" fill="none" stroke="#008000" stroke-width="1.15"/>
<polygon points="236.17,384.64 237.32,387.47 240.36,387.68 238.03,389.65 238.76,392.6 236.17,390.99 233.58,392.6 234.32,389.65 231.99,387.68 235.02,387.47" fill="none" stroke="#008000" stroke-width="1.15"/>
<polygon points="246.77,389.48 247.92,392.31 250.96,392.53 248.63,394.49 249.36,397.44 246.77,395.83 244.18,397.44 244.92,394.49 242.59,392.53 245.62,392.31" fill="none" stroke="#008000" stroke-width="1.15"/>
<polygon points="249.42,390.34 250.57,393.16 253.61,393.38 251.28,395.34 252.01,398.3 249.42,396.69 246.83,398.3 247.57,395.34 245.24,393.38 248.27,393.16" fill="none" stroke="#008000" stroke-width="1.15"/>
<polygon points="251.83,390.34 252.98,393.16 256.01,393.38 253.68,395.34 254.42,398.3 251.83,396.69 249.24,398.3 249.98,395.34 247.65,393.38 250.68,393.16" fill="none" stroke="#008000" stroke-width="1.15"/>
<polygon points="265.94,399.91 267.09,402.73 270.12,402.95 267.79,404.91 268.53,407.87 265.94,406.26 263.35,407.87 264.09,404.91 261.76,402.95 264.79,402.73" fill="none" stroke="#008000" stroke-width="1.15"/>
<polygon points="274.54,400.44 275.69,403.27 278.73,403.48 276.4,405.45 277.13,408.4 274.54,406.79 271.96,408.4 272.69,405.45 270.36,403.48 273.4,403.27" fill="none" stroke="#008000" stroke-width="1.15"/>
<polygon points="288.88,405.76 290.03,408.59 293.07,408.8 290.74,410.77 291.47,413.72 288.88,412.11 286.3,413.72 287.03,410.77 284.7,408.8 287.74,408.59" fill="none" stroke="#008000" stroke-width="1.15"/>
<polygon points="213.46,364.45 209.7,371.17 217.21,371.17" fill="none" stroke="#ff8000" stroke-width="1.2"/>
<polygon points="221.2,369.51 217.45,376.22 224.95,376.22" fill="none" stroke="#ff8000" stroke-width="1.2"/>
<polygon points="231.28,376.1 227.53,382.82 235.04,382.82" fill="none" stroke="#ff8000" stroke-width="1.2"/>
<polygon points="235.65,378.55 231.9,385.26 239.41,385.26" fill="none" stroke="#ff8000" stroke-width="1.2"/>
<polygon points="244.81,385.09 241.06,391.81 248.56,391.81" fill="none" stroke="#ff8000" stroke-width="1.2"/>
<polygon points="246.53,386.53 242.78,393.24 250.28,393.24" fill="none" stroke="#ff8000" stroke-width="1.2"/>
<polygon points="251.49,389.93 247.73,396.65 255.24,396.65" fill="none" stroke="#ff8000" stroke-width="1.2"/>
<polygon points="265.94,399.83 262.19,406.54 269.69,406.54" fill="none" stroke="#ff8000" stroke-width="1.2"/>
<polygon points="274.54,400.36 270.79,407.08 278.3,407.08" fill="none" stroke="#ff8000" stroke-width="1.2"/>
<polygon points="288.88,405.15 285.13,411.87 292.64,411.87" fill="none" stroke="#ff8000" stroke-width="1.2"/>
<rect x="263.04" y="402.21" width="5.8" height="5.8" fill="none" stroke="#0000ff" stroke-width="1.3"/>
<rect x="271.64" y="402.21" width="5.8" height="5.8" fill="none" stroke="#0000ff" stroke-width="1.3"/>
<rect x="285.98" y="401.15" width="5.8" height="5.8" fill="none" stroke="#0000ff" stroke-width="1.3"/>
<polyline points="59.45,236.2 108.61,283.28 145.49,315.2 174.17,335.68 197.11,349.25 231.53,354.84 265.94,395.27 274.54,398.99 278.45,400.59 288.88,403.14 327.12,333.29 403.6,236.2" fill="none" stroke="#000" stroke-width="2" stroke-linejoin="round"/>
<circle cx="108.61" cy="283.28" r="2.45" fill="none" stroke="#000" stroke-width="1.4"/>
<circle cx="145.49" cy="315.2" r="2.45" fill="none" stroke="#000" stroke-width="1.4"/>
<circle cx="174.17" cy="335.68" r="2.45" fill="none" stroke="#000" stroke-width="1.4"/>
<circle cx="197.11" cy="349.25" r="2.45" fill="none" stroke="#000" stroke-width="1.4"/>
<circle cx="231.53" cy="354.84" r="2.45" fill="none" stroke="#000" stroke-width="1.4"/>
<circle cx="265.94" cy="395.27" r="2.45" fill="none" stroke="#000" stroke-width="1.4"/>
<circle cx="274.54" cy="398.99" r="2.45" fill="none" stroke="#000" stroke-width="1.4"/>
<circle cx="278.45" cy="400.59" r="2.45" fill="none" stroke="#000" stroke-width="1.4"/>
<circle cx="288.88" cy="403.14" r="2.45" fill="none" stroke="#000" stroke-width="1.4"/>
<circle cx="327.12" cy="333.29" r="2.45" fill="none" stroke="#000" stroke-width="1.4"/>
<clipPath id="ci"><rect x="202.9" y="249.75" width="111.49999999999997" height="71.39999999999998"/></clipPath>
<g clip-path="url(#ci)">
<polyline points="-75.85,71.25 3.79,134.44 63.53,177.28 109.98,204.77 147.15,222.98 258.65,284.74 272.59,289.73 278.92,291.88 295.82,295.3 481.65,71.25" fill="none" stroke="#111" stroke-width="1.5" stroke-dasharray="1.4,1.7"/>
<line x1="258.65" y1="293.59" x2="258.65" y2="301.59" stroke="#008b8b" stroke-width="1.25"/><line x1="254.65" y1="297.59" x2="262.65" y2="297.59" stroke="#008b8b" stroke-width="1.25"/><line x1="254.55" y1="293.49" x2="262.75" y2="301.69" stroke="#008b8b" stroke-width="1.25"/><line x1="254.55" y1="301.69" x2="262.75" y2="293.49" stroke="#008b8b" stroke-width="1.25"/>
<line x1="272.59" y1="294.3" x2="272.59" y2="302.3" stroke="#008b8b" stroke-width="1.25"/><line x1="268.59" y1="298.3" x2="276.59" y2="298.3" stroke="#008b8b" stroke-width="1.25"/><line x1="268.49" y1="294.2" x2="276.69" y2="302.4" stroke="#008b8b" stroke-width="1.25"/><line x1="268.49" y1="302.4" x2="276.69" y2="294.2" stroke="#008b8b" stroke-width="1.25"/>
<line x1="278.72" y1="295.02" x2="278.72" y2="303.02" stroke="#008b8b" stroke-width="1.25"/><line x1="274.72" y1="299.02" x2="282.72" y2="299.02" stroke="#008b8b" stroke-width="1.25"/><line x1="274.62" y1="294.92" x2="282.82" y2="303.12" stroke="#008b8b" stroke-width="1.25"/><line x1="274.62" y1="303.12" x2="282.82" y2="294.92" stroke="#008b8b" stroke-width="1.25"/>
<line x1="295.82" y1="300.73" x2="295.82" y2="308.73" stroke="#008b8b" stroke-width="1.25"/><line x1="291.82" y1="304.73" x2="299.82" y2="304.73" stroke="#008b8b" stroke-width="1.25"/><line x1="291.72" y1="300.63" x2="299.92" y2="308.83" stroke="#008b8b" stroke-width="1.25"/><line x1="291.72" y1="308.83" x2="299.92" y2="300.63" stroke="#008b8b" stroke-width="1.25"/>
<polygon points="-68.28,73.68 -74.99,69.93 -74.99,77.43" fill="none" stroke="#ff0000" stroke-width="1.2"/>
<polygon points="-67.11,75.96 -73.82,72.21 -73.82,79.71" fill="none" stroke="#ff0000" stroke-width="1.2"/>
<polygon points="-62.98,80.53 -69.69,76.78 -69.69,84.28" fill="none" stroke="#ff0000" stroke-width="1.2"/>
<polygon points="-59.36,82.67 -66.07,78.92 -66.07,86.43" fill="none" stroke="#ff0000" stroke-width="1.2"/>
<polygon points="-55.45,85.6 -62.17,81.85 -62.17,89.35" fill="none" stroke="#ff0000" stroke-width="1.2"/>
<polygon points="-47.26,90.71 -53.97,86.96 -53.97,94.47" fill="none" stroke="#ff0000" stroke-width="1.2"/>
<polygon points="-39.4,96.35 -46.11,92.59 -46.11,100.1" fill="none" stroke="#ff0000" stroke-width="1.2"/>
<polygon points="2.36,129.23 -4.36,125.47 -4.36,132.98" fill="none" stroke="#ff0000" stroke-width="1.2"/>
<polygon points="67.48,178.35 60.76,174.6 60.76,182.1" fill="none" stroke="#ff0000" stroke-width="1.2"/>
<polygon points="205.18,262.6 198.46,258.85 198.46,266.35" fill="none" stroke="#ff0000" stroke-width="1.2"/>
<polygon points="262.6,296.87 255.88,293.12 255.88,300.63" fill="none" stroke="#ff0000" stroke-width="1.2"/>
<polygon points="276.54,297.59 269.82,293.84 269.82,301.34" fill="none" stroke="#ff0000" stroke-width="1.2"/>
<polygon points="299.77,304.01 293.05,300.26 293.05,307.77" fill="none" stroke="#ff0000" stroke-width="1.2"/>
<polygon points="174.47,248.21 175.61,251.03 178.65,251.25 176.32,253.21 177.05,256.17 174.47,254.56 171.88,256.17 172.61,253.21 170.28,251.25 173.32,251.03" fill="none" stroke="#008000" stroke-width="1.15"/>
<polygon points="187.29,258.92 188.44,261.74 191.47,261.96 189.14,263.92 189.88,266.88 187.29,265.27 184.7,266.88 185.44,263.92 183.11,261.96 186.14,261.74" fill="none" stroke="#008000" stroke-width="1.15"/>
<polygon points="204.41,268.91 205.55,271.73 208.59,271.95 206.26,273.91 206.99,276.87 204.41,275.26 201.82,276.87 202.55,273.91 200.22,271.95 203.26,271.73" fill="none" stroke="#008000" stroke-width="1.15"/>
<polygon points="210.43,271.98 211.57,274.8 214.61,275.02 212.28,276.98 213.01,279.94 210.43,278.33 207.84,279.94 208.57,276.98 206.24,275.02 209.28,274.8" fill="none" stroke="#008000" stroke-width="1.15"/>
<polygon points="227.6,278.48 228.74,281.3 231.78,281.52 229.45,283.48 230.18,286.44 227.6,284.83 225.01,286.44 225.74,283.48 223.41,281.52 226.45,281.3" fill="none" stroke="#008000" stroke-width="1.15"/>
<polygon points="231.89,279.62 233.04,282.44 236.07,282.66 233.74,284.62 234.48,287.58 231.89,285.97 229.3,287.58 230.04,284.62 227.71,282.66 230.74,282.44" fill="none" stroke="#008000" stroke-width="1.15"/>
<polygon points="235.79,279.62 236.94,282.44 239.98,282.66 237.65,284.62 238.38,287.58 235.79,285.97 233.21,287.58 233.94,284.62 231.61,282.66 234.65,282.44" fill="none" stroke="#008000" stroke-width="1.15"/>
<polygon points="258.65,292.47 259.8,295.3 262.83,295.51 260.5,297.48 261.24,300.43 258.65,298.82 256.06,300.43 256.8,297.48 254.47,295.51 257.5,295.3" fill="none" stroke="#008000" stroke-width="1.15"/>
<polygon points="272.59,293.19 273.73,296.01 276.77,296.23 274.44,298.19 275.17,301.15 272.59,299.54 270,301.15 270.73,298.19 268.4,296.23 271.44,296.01" fill="none" stroke="#008000" stroke-width="1.15"/>
<polygon points="295.82,300.33 296.96,303.15 300,303.37 297.67,305.33 298.4,308.29 295.82,306.68 293.23,308.29 293.96,305.33 291.63,303.37 294.67,303.15" fill="none" stroke="#008000" stroke-width="1.15"/>
<polygon points="173.63,244.73 169.88,251.44 177.38,251.44" fill="none" stroke="#ff8000" stroke-width="1.2"/>
<polygon points="186.18,251.51 182.42,258.23 189.93,258.23" fill="none" stroke="#ff8000" stroke-width="1.2"/>
<polygon points="202.51,260.37 198.76,267.08 206.26,267.08" fill="none" stroke="#ff8000" stroke-width="1.2"/>
<polygon points="209.59,263.65 205.84,270.37 213.34,270.37" fill="none" stroke="#ff8000" stroke-width="1.2"/>
<polygon points="224.42,272.43 220.67,279.15 228.17,279.15" fill="none" stroke="#ff8000" stroke-width="1.2"/>
<polygon points="227.21,274.36 223.45,281.07 230.96,281.07" fill="none" stroke="#ff8000" stroke-width="1.2"/>
<polygon points="235.24,278.93 231.48,285.64 238.99,285.64" fill="none" stroke="#ff8000" stroke-width="1.2"/>
<polygon points="258.65,292.21 254.9,298.92 262.4,298.92" fill="none" stroke="#ff8000" stroke-width="1.2"/>
<polygon points="272.59,292.92 268.83,299.64 276.34,299.64" fill="none" stroke="#ff8000" stroke-width="1.2"/>
<polygon points="295.82,299.35 292.06,306.06 299.57,306.06" fill="none" stroke="#ff8000" stroke-width="1.2"/>
<rect x="255.75" y="295.05" width="5.8" height="5.8" fill="none" stroke="#0000ff" stroke-width="1.3"/>
<rect x="269.69" y="295.05" width="5.8" height="5.8" fill="none" stroke="#0000ff" stroke-width="1.3"/>
<rect x="292.92" y="293.62" width="5.8" height="5.8" fill="none" stroke="#0000ff" stroke-width="1.3"/>
<polyline points="-75.85,71.25 3.79,134.44 63.53,177.28 109.98,204.77 147.15,222.98 202.9,230.47 258.65,284.74 272.59,289.73 278.92,291.88 295.82,295.3 357.76,201.56 481.65,71.25" fill="none" stroke="#000" stroke-width="2" stroke-linejoin="round"/>
<circle cx="3.79" cy="134.44" r="2.45" fill="none" stroke="#000" stroke-width="1.4"/>
<circle cx="63.53" cy="177.28" r="2.45" fill="none" stroke="#000" stroke-width="1.4"/>
<circle cx="109.98" cy="204.77" r="2.45" fill="none" stroke="#000" stroke-width="1.4"/>
<circle cx="147.15" cy="222.98" r="2.45" fill="none" stroke="#000" stroke-width="1.4"/>
<circle cx="202.9" cy="230.47" r="2.45" fill="none" stroke="#000" stroke-width="1.4"/>
<circle cx="258.65" cy="284.74" r="2.45" fill="none" stroke="#000" stroke-width="1.4"/>
<circle cx="272.59" cy="289.73" r="2.45" fill="none" stroke="#000" stroke-width="1.4"/>
<circle cx="278.92" cy="291.88" r="2.45" fill="none" stroke="#000" stroke-width="1.4"/>
<circle cx="295.82" cy="295.3" r="2.45" fill="none" stroke="#000" stroke-width="1.4"/>
<circle cx="357.76" cy="201.56" r="2.45" fill="none" stroke="#000" stroke-width="1.4"/>
</g>
<rect x="202.9" y="249.75" width="111.49999999999997" height="71.39999999999998" fill="none" stroke="#000" stroke-width="1.5"/>
<line x1="202.9" y1="249.75" x2="209.1" y2="249.75" stroke="#000" stroke-width="1.3"/>
<text x="197" y="253.05" font-family="Liberation Sans, sans-serif" font-size="10.5" text-anchor="end">-2.5</text>
<line x1="202.9" y1="256.89" x2="206.1" y2="256.89" stroke="#000" stroke-width="1.3"/>
<line x1="202.9" y1="264.03" x2="206.1" y2="264.03" stroke="#000" stroke-width="1.3"/>
<line x1="202.9" y1="271.17" x2="206.1" y2="271.17" stroke="#000" stroke-width="1.3"/>
<line x1="202.9" y1="278.31" x2="206.1" y2="278.31" stroke="#000" stroke-width="1.3"/>
<line x1="202.9" y1="285.45" x2="209.1" y2="285.45" stroke="#000" stroke-width="1.3"/>
<text x="197" y="288.75" font-family="Liberation Sans, sans-serif" font-size="10.5" text-anchor="end">-3.0</text>
<line x1="202.9" y1="292.59" x2="206.1" y2="292.59" stroke="#000" stroke-width="1.3"/>
<line x1="202.9" y1="299.73" x2="206.1" y2="299.73" stroke="#000" stroke-width="1.3"/>
<line x1="202.9" y1="306.87" x2="206.1" y2="306.87" stroke="#000" stroke-width="1.3"/>
<line x1="202.9" y1="314.01" x2="206.1" y2="314.01" stroke="#000" stroke-width="1.3"/>
<line x1="202.9" y1="321.15" x2="209.1" y2="321.15" stroke="#000" stroke-width="1.3"/>
<text x="197" y="324.45" font-family="Liberation Sans, sans-serif" font-size="10.5" text-anchor="end">-3.5</text>
<line x1="202.9" y1="314.95" x2="202.9" y2="321.15" stroke="#000" stroke-width="1.3"/>
<text x="202.9" y="335.4" font-family="Liberation Sans, sans-serif" font-size="10.5" text-anchor="middle">0.5</text>
<line x1="214.05" y1="317.95" x2="214.05" y2="321.15" stroke="#000" stroke-width="1.3"/>
<line x1="225.2" y1="317.95" x2="225.2" y2="321.15" stroke="#000" stroke-width="1.3"/>
<line x1="236.35" y1="317.95" x2="236.35" y2="321.15" stroke="#000" stroke-width="1.3"/>
<line x1="247.5" y1="317.95" x2="247.5" y2="321.15" stroke="#000" stroke-width="1.3"/>
<line x1="258.65" y1="314.95" x2="258.65" y2="321.15" stroke="#000" stroke-width="1.3"/>
<text x="258.65" y="335.4" font-family="Liberation Sans, sans-serif" font-size="10.5" text-anchor="middle">0.6</text>
<line x1="269.8" y1="317.95" x2="269.8" y2="321.15" stroke="#000" stroke-width="1.3"/>
<line x1="280.95" y1="317.95" x2="280.95" y2="321.15" stroke="#000" stroke-width="1.3"/>
<line x1="292.1" y1="317.95" x2="292.1" y2="321.15" stroke="#000" stroke-width="1.3"/>
<line x1="303.25" y1="317.95" x2="303.25" y2="321.15" stroke="#000" stroke-width="1.3"/>
<line x1="314.4" y1="314.95" x2="314.4" y2="321.15" stroke="#000" stroke-width="1.3"/>
<text x="314.4" y="335.4" font-family="Liberation Sans, sans-serif" font-size="10.5" text-anchor="middle">0.7</text>
<line x1="67.5" y1="318.6" x2="93.5" y2="318.6" stroke="#000" stroke-width="2"/>
<circle cx="80.8" cy="318.6" r="2.45" fill="none" stroke="#000" stroke-width="1.4"/>
<rect x="77.9" y="329.1" width="5.8" height="5.8" fill="none" stroke="#0000ff" stroke-width="1.3"/>
<polygon points="84.75,357.4 78.03,353.65 78.03,361.15" fill="none" stroke="#ff0000" stroke-width="1.2"/>
<polygon points="80.8,366 81.95,368.82 84.98,369.04 82.65,371 83.39,373.96 80.8,372.35 78.21,373.96 78.95,371 76.62,369.04 79.65,368.82" fill="none" stroke="#008000" stroke-width="1.15"/>
<polygon points="80.8,378.55 77.05,385.26 84.55,385.26" fill="none" stroke="#ff8000" stroke-width="1.2"/>
<line x1="80.5" y1="392.3" x2="80.5" y2="400.3" stroke="#008b8b" stroke-width="1.25"/><line x1="76.5" y1="396.3" x2="84.5" y2="396.3" stroke="#008b8b" stroke-width="1.25"/><line x1="76.4" y1="392.2" x2="84.6" y2="400.4" stroke="#008b8b" stroke-width="1.25"/><line x1="76.4" y1="400.4" x2="84.6" y2="392.2" stroke="#008b8b" stroke-width="1.25"/>
<text x="95.5" y="322.45000000000005" font-family="Liberation Sans, sans-serif" font-size="10.65" fill="#000">HSE06</text>
<text x="95.5" y="335.85" font-family="Liberation Sans, sans-serif" font-size="10.65" fill="#000">Pourbaix</text>
<text x="95.5" y="348.45000000000005" font-family="Liberation Sans, sans-serif" font-size="10.65" fill="#000">&amp; Bard</text>
<text x="95.5" y="361.25" font-family="Liberation Sans, sans-serif" font-size="10.65" fill="#000">Mah</text>
<text x="95.5" y="374.05" font-family="Liberation Sans, sans-serif" font-size="10.65" fill="#000">Charlu</text>
<text x="95.5" y="386.65000000000003" font-family="Liberation Sans, sans-serif" font-size="10.65" fill="#000">Ariya</text>
<text x="95.5" y="400.65000000000003" font-family="Liberation Sans, sans-serif" font-size="10.65" fill="#000">Chase, Samsonov,</text>
<text x="95.5" y="412.65000000000003" font-family="Liberation Sans, sans-serif" font-size="10.65" fill="#000">&amp; Kubaschewski</text>
<text x="0.3" y="38" font-family="Liberation Sans, sans-serif" font-size="21">(a)</text>
<text x="0.3" y="244" font-family="Liberation Sans, sans-serif" font-size="21">(b)</text>
<text transform="translate(14.0,171.3) rotate(-90)" font-family="Liberation Sans, sans-serif" font-size="13.8"><tspan font-family="Liberation Serif, serif" font-style="italic" font-size="16">E</tspan><tspan font-family="Liberation Serif, serif" font-style="italic" font-size="12.5" dy="3.5">f</tspan><tspan dy="-3.5" dx="2.2">(eV/atom)</tspan></text>
<text transform="translate(14.0,379.3) rotate(-90)" font-family="Liberation Sans, sans-serif" font-size="13.8"><tspan font-family="Liberation Serif, serif" font-style="italic" font-size="16">E</tspan><tspan font-family="Liberation Serif, serif" font-style="italic" font-size="12.5" dy="3.5">f</tspan><tspan dy="-3.5" dx="2.2">(eV/atom)</tspan></text>
<text x="178.6" y="455" font-family="Liberation Sans, sans-serif" font-size="13.3">Oxygen Content <tspan font-family="Liberation Serif, serif" font-style="italic" font-size="13">x</tspan></text>
<text transform="translate(58.5,25.9) rotate(-45)" font-family="Liberation Sans, sans-serif" font-size="12"><tspan dy="0">Ti</tspan></text>
<text transform="translate(105.1,28.3) rotate(-45)" font-family="Liberation Sans, sans-serif" font-size="12"><tspan dy="0">Ti</tspan><tspan font-size="8.4" dy="4">6</tspan><tspan dy="-5.6">O</tspan></text>
<text transform="translate(142.0,28.3) rotate(-45)" font-family="Liberation Sans, sans-serif" font-size="12"><tspan dy="0">Ti</tspan><tspan font-size="8.4" dy="4">3</tspan><tspan dy="-5.6">O</tspan></text>
<text transform="translate(170.6,28.3) rotate(-45)" font-family="Liberation Sans, sans-serif" font-size="12"><tspan dy="0">Ti</tspan><tspan font-size="8.4" dy="4">2</tspan><tspan dy="-5.6">O</tspan></text>
<text transform="translate(193.7,28.3) rotate(-45)" font-family="Liberation Sans, sans-serif" font-size="12"><tspan dy="0">Ti</tspan><tspan font-size="8.4" dy="4">3</tspan><tspan dy="-5.6">O</tspan><tspan font-size="8.4" dy="4.6">2</tspan></text>
<text transform="translate(227.1,27.9) rotate(-45)" font-family="Liberation Sans, sans-serif" font-size="12"><tspan dy="0">TiO</tspan></text>
<text transform="translate(246.5,25.35) rotate(-45)" font-family="Liberation Sans, sans-serif" font-size="12"><tspan dy="0">Ti</tspan><tspan font-size="8.4" dy="4">2</tspan><tspan dy="-5.6">O</tspan><tspan font-size="8.4" dy="4.6">3</tspan></text>
<text transform="translate(266.2,25.4) rotate(-45)" font-family="Liberation Sans, sans-serif" font-size="12"><tspan dy="0">Ti</tspan><tspan font-size="8.4" dy="4">3</tspan><tspan dy="-5.6">O</tspan><tspan font-size="8.4" dy="4.6">5</tspan></text>
<text transform="translate(286.1,25.6) rotate(-45)" font-family="Liberation Sans, sans-serif" font-size="12"><tspan dy="0">Ti</tspan><tspan font-size="8.4" dy="4">4</tspan><tspan dy="-5.6">O</tspan><tspan font-size="8.4" dy="4.6">7</tspan></text>
<text transform="translate(305.1,25.2) rotate(-45)" font-family="Liberation Sans, sans-serif" font-size="12"><tspan dy="0">TiO</tspan><tspan font-size="8.4" dy="4">2</tspan></text>
<text transform="translate(323.4,28.9) rotate(-45)" font-family="Liberation Sans, sans-serif" font-size="12"><tspan dy="0">Ti</tspan><tspan font-size="8.4" dy="4">2</tspan><tspan dy="-5.6">O</tspan><tspan font-size="8.4" dy="4.6">7</tspan></text>
<text transform="translate(399.2,25.3) rotate(-45)" font-family="Liberation Sans, sans-serif" font-size="12"><tspan dy="0">O</tspan><tspan font-size="8.4" dy="4">2</tspan></text>
<line x1="255.9" y1="22.4" x2="265.5" y2="29" stroke="#000" stroke-width="1.1"/>
<line x1="271.1" y1="22.4" x2="274.5" y2="29" stroke="#000" stroke-width="1.1"/>
<line x1="281.2" y1="23" x2="278.3" y2="29" stroke="#000" stroke-width="1.1"/>
<line x1="297.8" y1="22.4" x2="289" y2="29" stroke="#000" stroke-width="1.1"/>
</svg></body></html>
